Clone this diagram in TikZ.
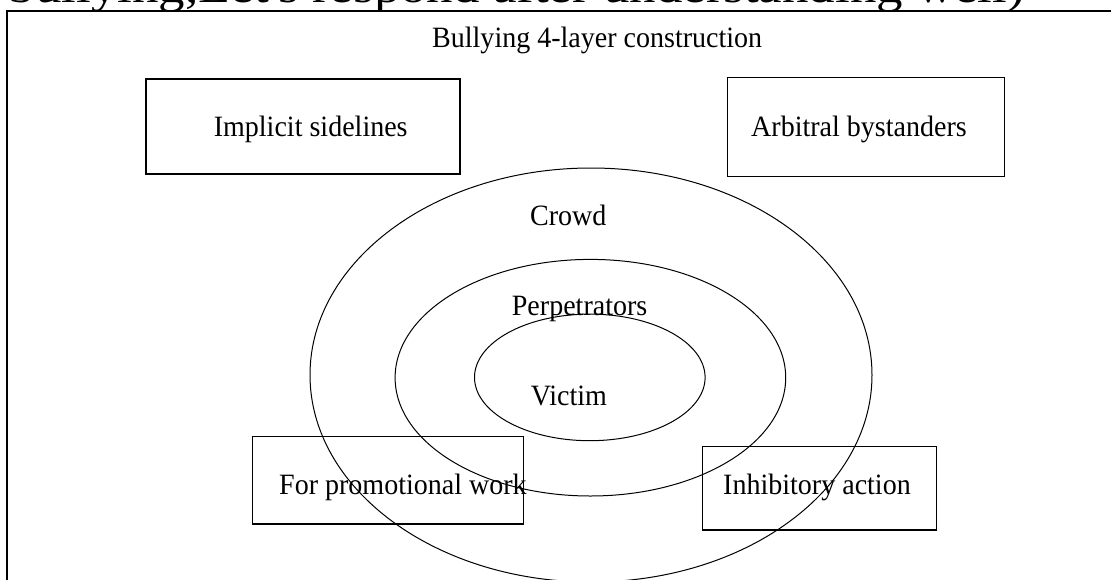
\documentclass[tikz,border=0pt]{standalone}
\usepackage{fontspec}
\setmainfont{Liberation Serif}
\newfontfamily\bodyfont[FakeStretch=0.95]{Liberation Serif}
\newfontfamily\topfont[FakeStretch=1.15]{Liberation Serif}
\usetikzlibrary{shapes.geometric}
\begin{document}
\begin{tikzpicture}[x=1pt,y=-1pt,
  lbl/.style={font=\bodyfont\fontsize{29.5}{32}\selectfont, anchor=base west, inner sep=0pt},
  boxnode/.style={draw, line width=1.3pt, rectangle, inner sep=0pt},
  ring/.style={draw, line width=1pt, ellipse, inner sep=0pt}]
\useasboundingbox (0,0) rectangle (1111,579);
\clip (0,0) rectangle (1111,579);
% cut-off heading at the very top
\node[font=\topfont\fontsize{46}{50}\selectfont, anchor=base west, inner sep=0pt] (cut) at (8.75,2) {bullying,Let's respond after understanding well)};
% frame
\draw[line width=1.3pt] (7,590) -- (7,11) -- (1120,11);
% title
\node[lbl] (title) at (432,47) {Bullying 4-layer construction};
% rings
\node[ring, minimum width=562pt, minimum height=414pt] (outer) at (591,375) {};
\node[ring, minimum width=390.6pt, minimum height=236.6pt] (middle) at (590.4,377.7) {};
\node[ring, minimum width=230.6pt, minimum height=126.6pt] (inner) at (589.8,377.4) {};
% boxes
\node[boxnode, minimum width=314pt, minimum height=95pt] (b1) at (303,126.5) {};
\node[boxnode, minimum width=276.8pt, minimum height=99pt] (b2) at (865.9,127.2) {};
\node[boxnode, minimum width=271pt, minimum height=87.7pt] (b3) at (388,480.2) {};
\node[boxnode, minimum width=233.6pt, minimum height=83.3pt] (b4) at (819.4,488.3) {};
% labels
\node[lbl] (t1) at (213.6,136.7) {Implicit sidelines};
\node[lbl] (t2) at (751,136) {Arbitral bystanders};
\node[lbl] (t3) at (530,225.7) {Crowd};
\node[lbl] (t4) at (511.7,315) {Perpetrators};
\node[lbl] (t5) at (530.6,405) {Victim};
\node[lbl] (t6) at (279,494) {For promotional work};
\node[lbl] (t7) at (723,494) {Inhibitory action};
\end{tikzpicture}
\end{document}
